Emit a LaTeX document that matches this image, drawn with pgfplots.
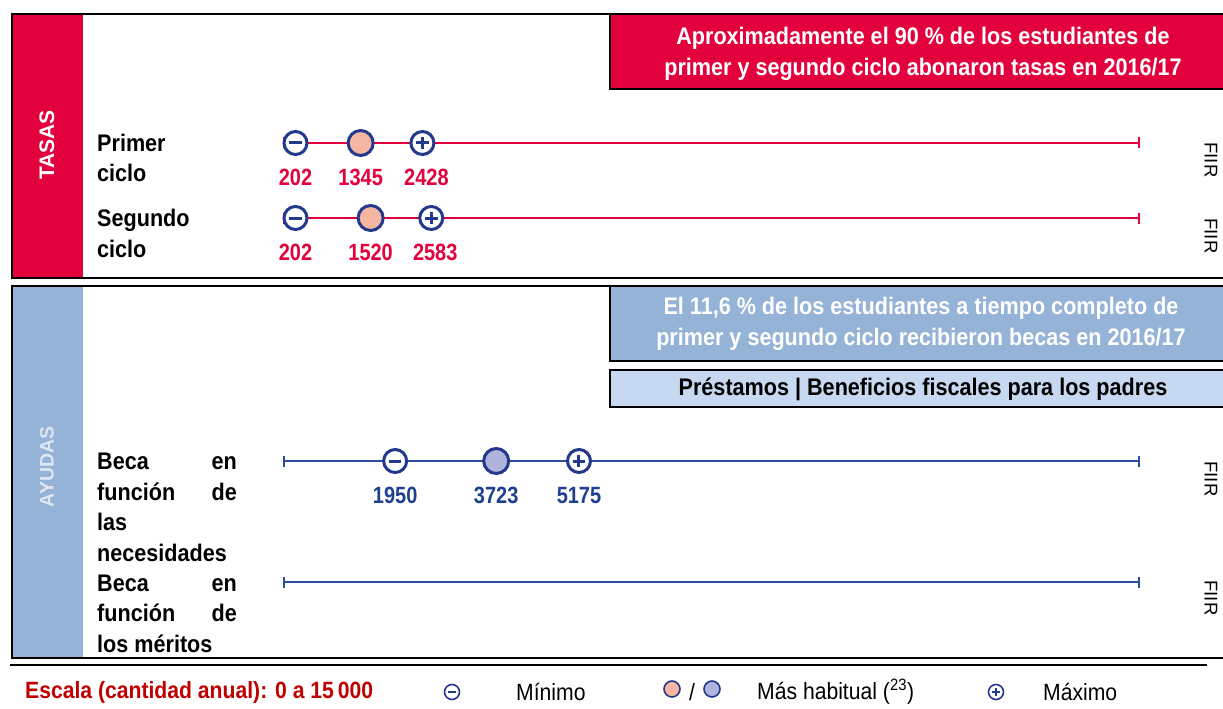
\documentclass[border=0pt]{standalone}
\usepackage{pgfplots}
\pgfplotsset{compat=1.18}
\usepackage{fontspec}
\setmainfont{Liberation Sans}
\newfontfamily\cond[FakeStretch=0.9]{Liberation Sans}
\newfontfamily\numf[FakeStretch=0.85]{Liberation Sans}
\definecolor{tasred}{HTML}{E2003D}
\definecolor{navy}{HTML}{24398C}
\definecolor{lblue}{HTML}{2C4C9C}
\definecolor{nblue}{HTML}{1F3F90}
\definecolor{salmon}{HTML}{F5B7A2}
\definecolor{lav}{HTML}{B0B4DC}
\definecolor{ayub}{HTML}{95B3D7}
\definecolor{ayul}{HTML}{C6D9F1}
\definecolor{esc}{HTML}{C00000}
\definecolor{ayut}{HTML}{DDE6F2}
\newcommand\lab{\cond\bfseries\fontsize{24}{24}\selectfont}
\newcommand\boxf{\cond\bfseries\fontsize{24}{31}\selectfont}
\newcommand\legf{\cond\fontsize{23.5}{23.5}\selectfont}
\pgfdeclareplotmark{ominusw}{%
  \pgfpathcircle{\pgfpointorigin}{\pgfplotmarksize}%
  \pgfusepathqfillstroke
  \pgfpathmoveto{\pgfpoint{-0.55\pgfplotmarksize}{0pt}}%
  \pgfpathlineto{\pgfpoint{0.55\pgfplotmarksize}{0pt}}%
  \pgfusepathqstroke}
\pgfdeclareplotmark{opluswh}{%
  \pgfpathcircle{\pgfpointorigin}{\pgfplotmarksize}%
  \pgfusepathqfillstroke
  \pgfpathmoveto{\pgfpoint{-0.55\pgfplotmarksize}{0pt}}%
  \pgfpathlineto{\pgfpoint{0.55\pgfplotmarksize}{0pt}}%
  \pgfpathmoveto{\pgfpoint{0pt}{-0.55\pgfplotmarksize}}%
  \pgfpathlineto{\pgfpoint{0pt}{0.55\pgfplotmarksize}}%
  \pgfusepathqstroke}
\begin{document}
\begin{tikzpicture}
\path[use as bounding box] (0,0) rectangle (1223pt,-709pt);
\begin{scope}[x=1pt,y=-1pt]
% ---------- TASAS panel
\fill[tasred] (12,14) rectangle (83,278);
\fill[tasred] (610,14) rectangle (1223,89);
\draw[line width=2.5pt] (1223,14) -- (12,14) -- (12,278) -- (1223,278);
\draw[line width=2pt] (610,14) -- (610,89) -- (1223,89);
\node[rotate=90, text=white, font=\bfseries\fontsize{21}{21}\selectfont, inner sep=0] at (47,145) {TASAS};
\node[align=center, text=white, font=\boxf, inner sep=0] at (923,54) {Aproximadamente el 90~\% de los estudiantes de\\primer y segundo ciclo abonaron tasas en 2016/17};
\node[anchor=base west, font=\lab, inner sep=0] at (97,151) {Primer};
\node[anchor=base west, font=\lab, inner sep=0] at (97,181) {ciclo};
\node[anchor=base west, font=\lab, inner sep=0] at (97,226) {Segundo};
\node[anchor=base west, font=\lab, inner sep=0] at (97,257) {ciclo};
% ---------- AYUDAS panel
\fill[ayub] (12,286) rectangle (83,658);
\fill[ayub] (610,286) rectangle (1223,361);
\fill[ayul] (610,370) rectangle (1223,407);
\draw[line width=2.5pt] (1223,286) -- (12,286) -- (12,658) -- (1223,658);
\draw[line width=2pt] (610,286) -- (610,361) -- (1223,361);
\draw[line width=2pt] (1223,370) -- (610,370) -- (610,407) -- (1223,407);
\node[rotate=90, text=ayut, font=\bfseries\fontsize{19.5}{19.5}\selectfont, inner sep=0] at (47,467) {AYUDAS};
\node[align=center, text=white, font=\boxf, inner sep=0] at (921,324) {El 11,6~\% de los estudiantes a tiempo completo de\\primer y segundo ciclo recibieron becas en 2016/17};
\node[font=\boxf, inner sep=0] at (923,389) {Préstamos | Beneficios fiscales para los padres};
\foreach \yy/\l/\r in {469/Beca/en, 500/función/de, 530/las/, 561/necesidades/, 591/Beca/en, 621/función/de, 652/los méritos/}{
  \node[anchor=base west, font=\lab, inner sep=0] at (97,\yy) {\l};
  \node[anchor=base east, font=\lab, inner sep=0] at (237,\yy) {\r};
}
% ---------- FIIR
\foreach \yy in {160,236,479,598}{
  \node[rotate=-90, font=\fontsize{18.5}{18.5}\selectfont, inner sep=0] at (1211,\yy) {FIIR};
}
% ---------- bottom rule and legend
\draw[line width=2.5pt] (10,665) -- (1207,665);
\node[anchor=west, text=esc, font=\cond\bfseries\fontsize{23.5}{23.5}\selectfont, inner sep=0] at (25,692) {Escala (cantidad anual): 0 a 15\,000};
\draw[navy, line width=1.6pt, fill=white] (452,692) circle (7.5);
\draw[navy, line width=1.6pt] (448,692) -- (456,692);
\node[anchor=west, font=\legf, inner sep=0] at (516,692) {Mínimo};
\draw[navy, line width=1.6pt, fill=salmon] (672,689) circle (8);
\node[font=\legf, inner sep=0] at (692,692) {/};
\draw[navy, line width=1.6pt, fill=lav] (712,689) circle (8);
\node[anchor=west, font=\legf, inner sep=0] at (757,692) {Más habitual (\textsuperscript{23})};
\draw[navy, line width=1.6pt, fill=white] (996,692) circle (7.5);
\draw[navy, line width=1.6pt] (992,692) -- (1000,692) (996,688) -- (996,696);
\node[anchor=west, font=\legf, inner sep=0] at (1043,692) {Máximo};
\end{scope}
\begin{axis}[
  at={(284pt,-709pt)}, anchor=south west,
  scale only axis, width=855pt, height=709pt,
  xmin=0, xmax=15000, ymin=-709, ymax=0,
  hide axis, clip=false,
  every node near coord/.append style={anchor=base, yshift=-42pt, inner sep=0pt,
     font=\numf\bfseries\fontsize{23.5}{23.5}\selectfont},
]
% scale lines (0 to 15 000)
\addplot[tasred, line width=2.7pt, mark=|, mark size=5.5pt, mark options={solid}] coordinates {(0,-143) (15000,-143)};
\addplot[tasred, line width=2.7pt, mark=|, mark size=5.5pt, mark options={solid}] coordinates {(0,-218) (15000,-218)};
\addplot[lblue, line width=2.7pt, mark=|, mark size=5.5pt, mark options={solid}] coordinates {(0,-461) (15000,-461)};
\addplot[lblue, line width=2.7pt, mark=|, mark size=5.5pt, mark options={solid}] coordinates {(0,-582) (15000,-582)};
% TASAS: minimum, most common, maximum
\addplot[only marks, mark=ominusw, mark size=11.5pt, mark options={fill=white, draw=navy, line width=3pt},
  point meta=explicit symbolic, nodes near coords, every node near coord/.append style={text=tasred}]
  coordinates {(202,-143) [202] (202,-218) [202]};
\addplot[only marks, mark=*, mark size=12.5pt, mark options={fill=salmon, draw=navy, line width=3pt},
  point meta=explicit symbolic, nodes near coords, every node near coord/.append style={text=tasred}]
  coordinates {(1345,-143) [1345] (1520,-218) [1520]};
\addplot[only marks, mark=opluswh, mark size=11.5pt, mark options={fill=white, draw=navy, line width=3pt},
  point meta=explicit symbolic, nodes near coords, every node near coord/.append style={text=tasred, xshift=4pt}]
  coordinates {(2428,-143) [2428] (2583,-218) [2583]};
% AYUDAS: need-based grant
\addplot[only marks, mark=ominusw, mark size=11.5pt, mark options={fill=white, draw=navy, line width=3pt},
  point meta=explicit symbolic, nodes near coords, every node near coord/.append style={text=nblue}]
  coordinates {(1950,-461) [1950]};
\addplot[only marks, mark=*, mark size=12.5pt, mark options={fill=lav, draw=navy, line width=3pt},
  point meta=explicit symbolic, nodes near coords, every node near coord/.append style={text=nblue}]
  coordinates {(3723,-461) [3723]};
\addplot[only marks, mark=opluswh, mark size=11.5pt, mark options={fill=white, draw=navy, line width=3pt},
  point meta=explicit symbolic, nodes near coords, every node near coord/.append style={text=nblue}]
  coordinates {(5175,-461) [5175]};
\end{axis}
\end{tikzpicture}
\end{document}
